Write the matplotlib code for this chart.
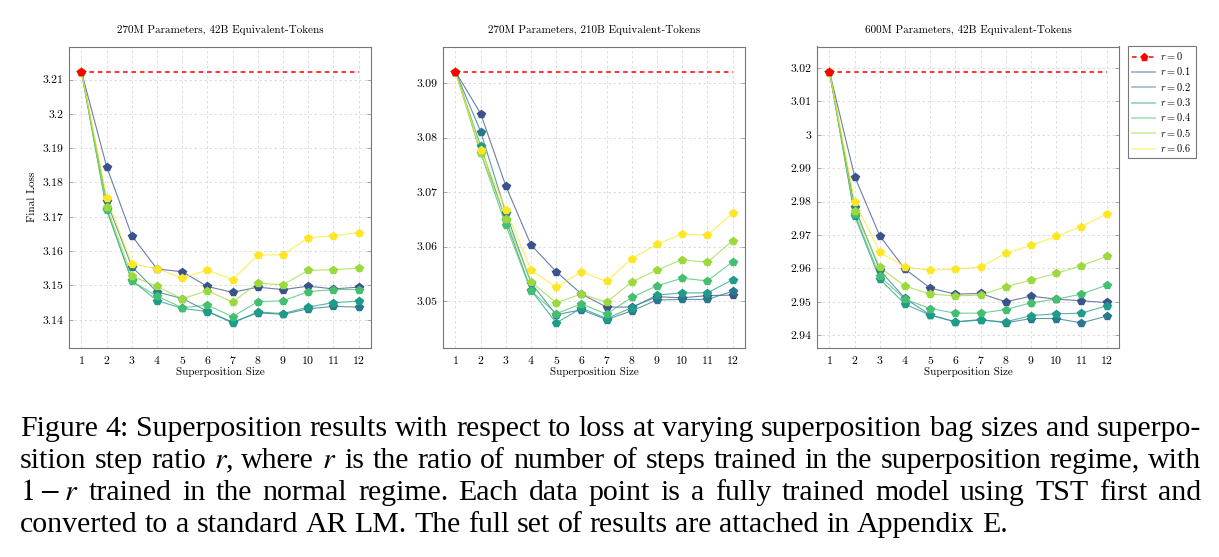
import numpy as np
import matplotlib.pyplot as plt
from matplotlib.lines import Line2D
from matplotlib.ticker import MultipleLocator, FuncFormatter

plt.rcParams['font.family'] = 'cmr10'
plt.rcParams['mathtext.fontset'] = 'cm'
plt.rcParams['axes.formatter.use_mathtext'] = True

# superposition sizes and step ratios
sizes = list(range(1, 13))
ratios = ['0.1', '0.2', '0.3', '0.4', '0.5', '0.6']
titles = ['270M Parameters, 42B Equivalent-Tokens',
          '270M Parameters, 210B Equivalent-Tokens',
          '600M Parameters, 42B Equivalent-Tokens']

# r = 0 baseline loss per panel
baselines = [3.2123, 3.0921, 3.0189]

# final loss, one row per ratio (r = 0.1 ... 0.6)
loss_270m_42b = [
    [3.2123, 3.1846, 3.1645, 3.1548, 3.1540, 3.1497, 3.1480, 3.1495, 3.1488, 3.1498, 3.1490, 3.1495],
    [3.2123, 3.1745, 3.1555, 3.1481, 3.1462, 3.1425, 3.1393, 3.1420, 3.1416, 3.1432, 3.1439, 3.1437],
    [3.2123, 3.1722, 3.1515, 3.1456, 3.1433, 3.1424, 3.1391, 3.1423, 3.1418, 3.1437, 3.1450, 3.1454],
    [3.2123, 3.1720, 3.1512, 3.1469, 3.1435, 3.1443, 3.1409, 3.1453, 3.1455, 3.1482, 3.1488, 3.1488],
    [3.2123, 3.1730, 3.1527, 3.1497, 3.1461, 3.1485, 3.1451, 3.1507, 3.1502, 3.1544, 3.1546, 3.1550],
    [3.2123, 3.1755, 3.1563, 3.1549, 3.1522, 3.1545, 3.1517, 3.1588, 3.1590, 3.1638, 3.1645, 3.1654],
]
loss_270m_210b = [
    [3.0921, 3.0844, 3.0711, 3.0603, 3.0554, 3.0513, 3.0489, 3.0489, 3.0508, 3.0506, 3.0510, 3.0511],
    [3.0921, 3.0811, 3.0662, 3.0533, 3.0475, 3.0484, 3.0466, 3.0482, 3.0502, 3.0503, 3.0503, 3.0518],
    [3.0921, 3.0784, 3.0648, 3.0520, 3.0460, 3.0487, 3.0468, 3.0488, 3.0511, 3.0515, 3.0515, 3.0539],
    [3.0921, 3.0772, 3.0639, 3.0519, 3.0477, 3.0495, 3.0476, 3.0507, 3.0528, 3.0542, 3.0537, 3.0572],
    [3.0921, 3.0772, 3.0651, 3.0535, 3.0497, 3.0513, 3.0498, 3.0535, 3.0557, 3.0576, 3.0571, 3.0611],
    [3.0921, 3.0778, 3.0668, 3.0557, 3.0525, 3.0554, 3.0536, 3.0578, 3.0604, 3.0623, 3.0621, 3.0661],
]
loss_600m_42b = [
    [3.0189, 2.9875, 2.9697, 2.9598, 2.9541, 2.9523, 2.9525, 2.9500, 2.9517, 2.9508, 2.9503, 2.9498],
    [3.0189, 2.9783, 2.9595, 2.9510, 2.9461, 2.9440, 2.9447, 2.9437, 2.9450, 2.9450, 2.9437, 2.9457],
    [3.0189, 2.9757, 2.9568, 2.9493, 2.9460, 2.9440, 2.9445, 2.9440, 2.9459, 2.9464, 2.9466, 2.9488],
    [3.0189, 2.9763, 2.9576, 2.9508, 2.9480, 2.9466, 2.9466, 2.9477, 2.9497, 2.9508, 2.9523, 2.9550],
    [3.0189, 2.9771, 2.9603, 2.9547, 2.9523, 2.9518, 2.9520, 2.9545, 2.9565, 2.9585, 2.9608, 2.9636],
    [3.0189, 2.9800, 2.9648, 2.9605, 2.9594, 2.9598, 2.9604, 2.9645, 2.9669, 2.9696, 2.9725, 2.9763],
]
panels = [loss_270m_42b, loss_270m_210b, loss_600m_42b]

caption_lines = [
    'Figure 4: Superposition results with respect to loss at varying superposition bag sizes and superpo-',
    'sition step ratio $r$, where $r$ is the ratio of number of steps trained in the superposition regime, with',
    '$1-r$ trained in the normal regime.  Each data point is a fully trained model using TST first and',
    'converted to a standard AR LM. The full set of results are attached in Appendix E.',
]

colors = plt.cm.viridis(np.linspace(0.25, 1.0, len(ratios)))

fig = plt.figure(figsize=(12.19, 5.57), dpi=100)
W, H = 1219, 557
lefts = [69, 443, 817]
axes = [fig.add_axes([l / W, 1 - 348 / H, 302 / W, (348 - 46.5) / H]) for l in lefts]

fmt = FuncFormatter(lambda v, _: f'{v:.2f}'.rstrip('0').rstrip('.'))

for ax, data, base, title in zip(axes, panels, baselines, titles):
    for vals, c in zip(data, colors):
        ax.plot(sizes, vals, '-', color=c, lw=0.8, alpha=0.75, zorder=2)
        ax.plot(sizes, vals, 'p', color=c, ms=5.5, mec=c, zorder=3)
    ax.plot(sizes, [base] * len(sizes), '--', color='red', lw=1.1, dashes=(3, 2.5), zorder=4)
    ax.plot(sizes[:1], [base], 'p', color='red', ms=5.5, zorder=5)

    ax.margins(x=0.045, y=0.1)
    ax.set_xticks(sizes)
    ax.yaxis.set_major_locator(MultipleLocator(0.01))
    ax.yaxis.set_major_formatter(fmt)
    ax.grid(True, ls=(0, (3, 3)), color='#d8d8d8', lw=0.6)
    ax.set_axisbelow(True)
    for s in ax.spines.values():
        s.set_color('#777777')
        s.set_linewidth(0.8)
    ax.tick_params(direction='in', length=3, width=0.6, color='#999999', labelsize=8.5,
                   right=True, top=False, pad=4)
    ax.tick_params(axis='x', length=0)
    ax.set_title(title, fontsize=8, pad=10)
    ax.set_xlabel('Superposition Size', fontsize=8, labelpad=1)

axes[0].set_ylabel('Final Loss', fontsize=8, labelpad=4)

handles = [Line2D([], [], color='red', ls='--', lw=1.1, marker='p', ms=5.2, dashes=(3, 2.5))]
handles += [Line2D([], [], color=c, lw=1.3, alpha=0.45) for c in colors]
labels = ['$r = 0$'] + [f'$r = {r}$' for r in ratios]
leg = fig.legend(handles, labels, loc='upper left', bbox_to_anchor=(1128 / W, 1 - 46 / H),
                 fontsize=7.5, frameon=True, fancybox=False, framealpha=1, edgecolor='#777777',
                 handlelength=2.2, labelspacing=0.32, borderpad=0.4, handletextpad=0.5,
                 borderaxespad=0)
leg.get_frame().set_linewidth(0.8)


def justified(lines, x0, x1, baselines_px, size):
    renderer = fig.canvas.get_renderer()
    space = 0.25 * size * fig.dpi / 72
    for i, (line, yb) in enumerate(zip(lines, baselines_px)):
        words = line.split()
        objs = [fig.text(0, 1 - yb / H, w, fontsize=size, family='Liberation Serif',
                         math_fontfamily='stix', ha='left', va='baseline') for w in words]
        widths = [o.get_window_extent(renderer).width for o in objs]
        if i < len(lines) - 1:
            gap = (x1 - x0 - sum(widths)) / (len(words) - 1)
        else:
            gap = space
        x = x0
        for o, w in zip(objs, widths):
            o.set_x(x / W)
            x += w + gap


justified(caption_lines, 20, 1201, [436, 468, 500, 532], 21.5)

fig.savefig('out.png', dpi=100)
